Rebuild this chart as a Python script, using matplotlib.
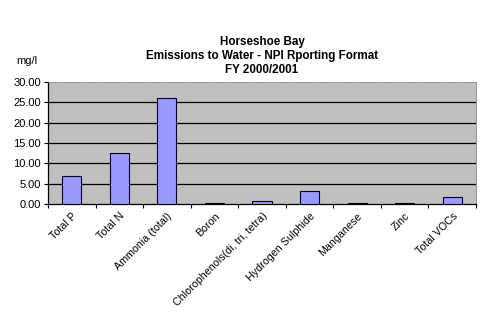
import numpy as np
import matplotlib.pyplot as plt

plt.rcParams['font.family'] = ['Liberation Sans', 'DejaVu Sans']

substances = ['Total P', 'Total N', 'Ammonia (total)', 'Boron',
              'Chlorophenols(di, tri, tetra)', 'Hydrogen Sulphide',
              'Manganese', 'Zinc', 'Total VOCs']
emissions = [6.8, 12.45, 26.0, 0.2, 0.7, 3.2, 0.15, 0.15, 1.7]
y_ticks = [0, 5, 10, 15, 20, 25, 30]

fig = plt.figure(figsize=(4.81, 3.26), dpi=100)
ax = fig.add_axes([48 / 481, 1 - 204 / 326, 428 / 481, 122 / 326])
ax.set_facecolor('#C0C0C0')

x = np.arange(len(substances))
ax.bar(x, emissions, width=0.4, color='#9999FF', edgecolor='#000033',
       linewidth=0.8, zorder=3)

ax.set_xlim(-0.5, len(substances) - 0.5)
ax.set_ylim(0, 30)
ax.set_yticks(y_ticks)
ax.set_yticklabels([f'{v:.2f}' for v in y_ticks], fontsize=8)
for v in y_ticks[1:-1]:
    ax.axhline(v, color='black', linewidth=0.9, zorder=1)

# category labels centred under bars, ticks between categories
ax.set_xticks(x)
ax.set_xticklabels(substances, rotation=45, ha='right', rotation_mode='anchor',
                   fontsize=7.7)
ax.tick_params(axis='x', length=0, pad=5)
ax.set_xticks(np.arange(len(substances) + 1) - 0.5, minor=True)
ax.tick_params(axis='x', which='minor', length=3, width=0.8, direction='out')
ax.tick_params(axis='y', length=3, width=0.8, pad=2)

for side in ['left', 'bottom']:
    ax.spines[side].set_linewidth(0.9)
ax.spines['right'].set_color('#808080')
ax.spines['top'].set_color('#808080')
ax.spines['top'].set_linestyle(':')
ax.spines['right'].set_linewidth(0.6)
ax.spines['top'].set_linewidth(0.6)

xc = 0.5 * (48 + 476) / 481
fig.text(xc, 1 - 42 / 326, 'Horseshoe Bay',
         ha='center', va='center', fontsize=8.4, fontweight='bold')
fig.text(xc, 1 - 56 / 326, 'Emissions to Water - NPI Rporting Format',
         ha='center', va='center', fontsize=8.4, fontweight='bold')
fig.text(xc, 1 - 70 / 326, 'FY 2000/2001',
         ha='center', va='center', fontsize=8.4, fontweight='bold')
fig.text(16 / 481, 1 - 61 / 326, 'mg/l', ha='left', va='center', fontsize=8)

fig.savefig('out.png', dpi=100)
